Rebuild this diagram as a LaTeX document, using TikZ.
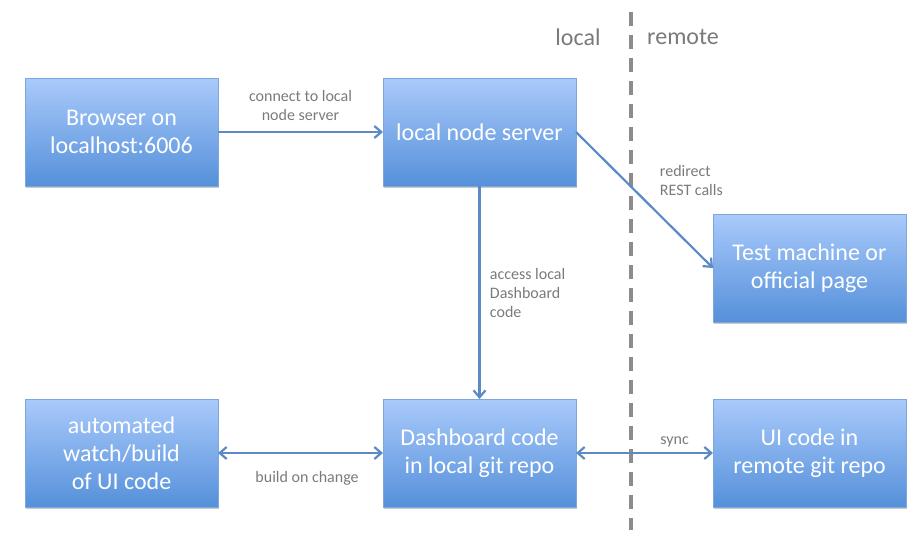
\documentclass[tikz,border=0pt]{standalone}
\usepackage{fontspec}
\setmainfont{Carlito}
\usetikzlibrary{arrows.meta, positioning, shadows}
\definecolor{boxtop}{HTML}{A9CAFB}
\definecolor{boxbottom}{HTML}{5590DA}
\definecolor{boxline}{HTML}{7EA7DE}
\definecolor{linkcolor}{HTML}{5B8AC6}
\definecolor{labeltext}{HTML}{7A7A7A}
\definecolor{splitcolor}{HTML}{8C8C8C}

\begin{document}
\begin{tikzpicture}[x=1pt, y=-1pt,
    node distance=165pt,
    >={Straight Barb[length=7pt, width=12pt]},
    block/.style={rectangle, draw=boxline, line width=0.8pt,
                  top color=boxtop, bottom color=boxbottom,
                  minimum width=193pt, minimum height=108pt,
                  inner sep=4pt, outer sep=0pt, align=center, text=white,
                  font=\fontsize{24}{28}\selectfont,
                  drop shadow={shadow xshift=1pt, shadow yshift=-2pt,
                               opacity=0.35, fill=black!60}},
    link/.style={->, line width=2.2pt, color=linkcolor},
    note/.style={font=\fontsize{16}{19}\selectfont, text=labeltext, align=left},
    side/.style={font=\fontsize{24}{28}\selectfont, text=labeltext}
]
\useasboundingbox (0,0) rectangle (919,538);

% Local / remote divider
\coordinate (divtop) at (631,12);
\coordinate (divbottom) at (631,530);
\draw[splitcolor, line width=4pt, dash pattern=on 14pt off 9pt] (divtop) -- (divbottom);
\node[side] (localside) at (578,37) {local};
\node[side] (remoteside) at (683,37) {remote};

% Boxes
\node[block] (browser) at (121.5,132) {Browser on\\localhost:6006};
\node[block, right=of browser] (server) {local node server};
\node[block, below=213pt of server] (dashboard) {Dashboard code\\in local git repo};
\node[block, left=of dashboard] (watcher) {automated\\watch/build\\of UI code};
\node[block, right=137pt of dashboard] (uirepo) {UI code in\\remote git repo};
\node[block, above=77pt of uirepo] (testpage) {Test machine or\\official page};

% Connectors
\draw[link] (browser) -- (server)
    node[note, midway, above=7pt, align=center] {connect to local\\node server};
\draw[link] (server.east) -- (testpage.west)
    node[note, pos=0.5, anchor=south west, xshift=11pt] {redirect\\REST calls};
\draw[link] (server) -- (dashboard)
    node[note, midway, right=6pt] {access local\\Dashboard\\code};
\draw[link, <->] (watcher) -- (dashboard)
    node[note, pos=0.54, below=14pt] {build on change};
\draw[link, <->] (dashboard) -- (uirepo)
    node[note, pos=0.72, above=1pt] {sync};

\end{tikzpicture}
\end{document}
